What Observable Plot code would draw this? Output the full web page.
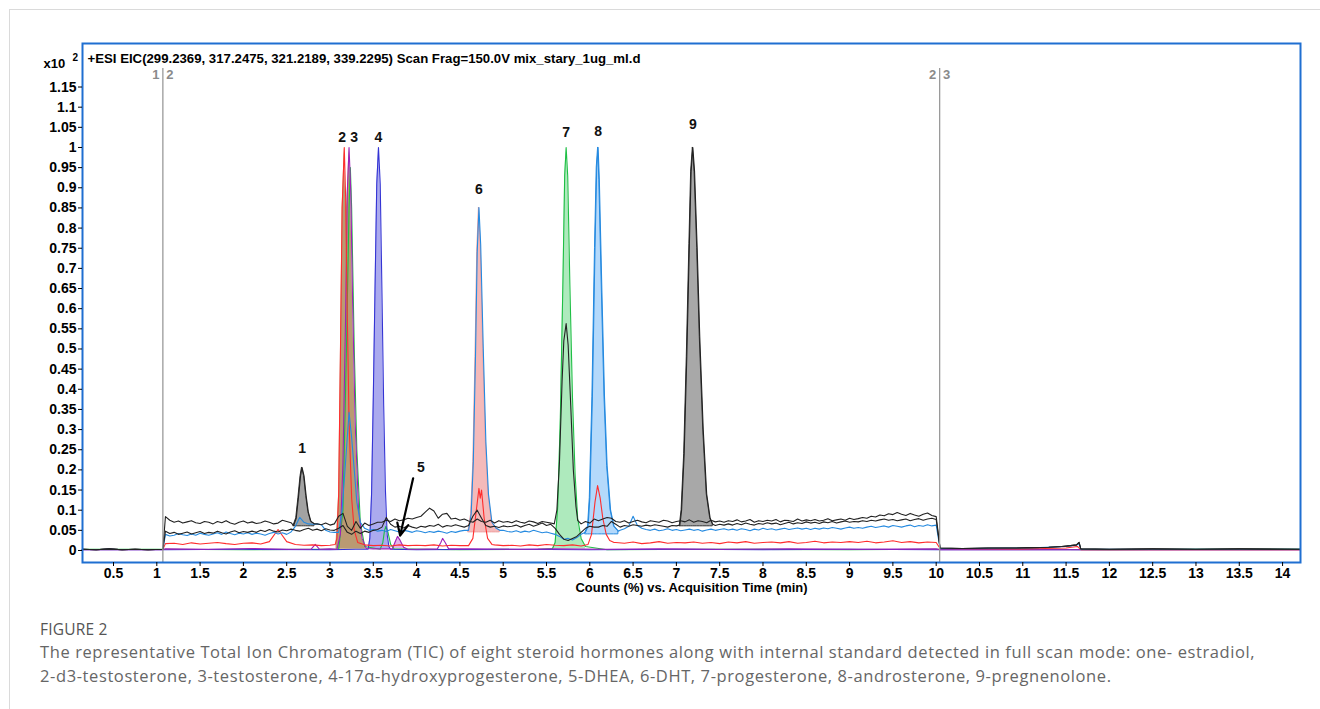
<!DOCTYPE html>
<html><head><meta charset="utf-8">
<script src="https://cdn.jsdelivr.net/npm/d3@7"></script>
<script src="https://cdn.jsdelivr.net/npm/@observablehq/plot@0.6"></script>
<style>
body{margin:0;background:#fff;width:1320px;height:709px;overflow:hidden;position:relative;font-family:"Liberation Sans",Arial,sans-serif}
#card{position:absolute;left:9px;top:9px;width:1400px;height:800px;border:1px solid #dadada;}
#chart{position:absolute;left:0;top:0}
#cap{position:absolute;left:40px;top:618px;color:#666;font-family:"Open Sans","Noto Sans",sans-serif}
#cap .fig{font-size:15.5px;letter-spacing:0.2px;margin-bottom:0px;color:#555}
#cap .txt{font-size:16.5px;letter-spacing:0.6px;line-height:24px;white-space:nowrap}
</style></head><body>
<div id="card"></div>
<div id="chart"></div>
<div id="cap"><div class="fig">FIGURE 2</div><div class="txt">The representative Total Ion Chromatogram (TIC) of eight steroid hormones along with internal standard detected in full scan mode: one- estradiol,<br>2-d3-testosterone, 3-testosterone, 4-17α-hydroxyprogesterone, 5-DHEA, 6-DHT, 7-progesterone, 8-androsterone, 9-pregnenolone.</div></div>
<script>
// ---------- data (time in min, signal in x10^2 counts %) ----------
const headerText = "+ESI EIC(299.2369, 317.2475, 321.2189, 339.2295) Scan Frag=150.0V mix_stary_1ug_ml.d";
const axisTitle = "Counts (%) vs. Acquisition Time (min)";
const xTicks = [0.5,1,1.5,2,2.5,3,3.5,4,4.5,5,5.5,6,6.5,7,7.5,8,8.5,9,9.5,10,10.5,11,11.5,12,12.5,13,13.5,14];
const yTicks = [0,0.05,0.1,0.15,0.2,0.25,0.3,0.35,0.4,0.45,0.5,0.55,0.6,0.65,0.7,0.75,0.8,0.85,0.9,0.95,1,1.05,1.1,1.15];
const segmentTimes = [1.07, 10.04];
const segmentLabels = [["1","2"],["2","3"]];

const peakNumbers = ["1","2","3","4","5","6","7","8","9"];
const peakLabelT = [2.677,3.14,3.28,3.56,4.05,4.72,5.727,6.096,7.19];
const peakLabelV = [0.253,1.025,1.025,1.025,0.206,0.896,1.037,1.040,1.057];
const arrow5 = {t1:3.96, v1:0.179, t2:3.81, v2:0.037};

// baseline sampling (scan plateau 1.10 .. 10.00 min)
const fineStart = 1.10, fineStep = 0.05;
const coarseStart = 1.1, coarseStep = 0.1;

const black1Base = [
.084,.075,.070,.073,.068,.071,.074,.069,.067,.072,
.070,.066,.072,.069,.074,.068,.065,.070,.073,.068,
.071,.067,.069,.073,.070,.066,.068,.075,.072,.069,
.070,.080,.150,.150,.090,.066,.064,.068,.063,.066,
.085,.092,.060,.050,.072,.055,.068,.062,.066,.070,
.070,.075,.072,.078,.074,.076,.080,.078,.082,.085,
.095,.105,.098,.080,.090,.092,.078,.080,.075,.078,
.073,.070,.078,.072,.070,.075,.068,.074,.070,.072,
.069,.074,.070,.068,.073,.071,.067,.072,.070,.068,
.065,.100,.450,.500,.120,.070,.066,.072,.068,.078,
.074,.078,.082,.080,.072,.070,.074,.068,.072,.075,
.071,.069,.074,.072,.070,.075,.073,.069,.072,.074,
.071,.076,.070,.074,.072,.069,.075,.071,.073,.070,
.074,.072,.076,.071,.073,.077,.070,.074,.072,.075,
.073,.077,.071,.075,.074,.072,.078,.073,.076,.074,
.077,.073,.075,.079,.074,.076,.078,.075,.080,.077,
.079,.082,.080,.085,.083,.088,.086,.091,.089,.094,
.090,.087,.092,.088,.085,.090,.093,.087,.084];
const black2Base = [
.048,.042,.045,.040,.043,.046,.041,.044,.047,.042,
.045,.043,.048,.044,.041,.046,.049,.044,.047,.045,
.048,.045,.050,.047,.052,.048,.046,.051,.049,.053,
.050,.048,.052,.055,.050,.053,.049,.054,.051,.050,
.055,.062,.045,.040,.048,.042,.048,.045,.050,.052,
.058,.082,.065,.058,.060,.056,.062,.058,.055,.060,
.058,.062,.060,.065,.058,.062,.060,.064,.061,.058,
.062,.085,.100,.080,.062,.058,.060,.057,.061,.059,
.060,.063,.058,.062,.065,.060,.064,.068,.062,.065,
.055,.040,.028,.025,.030,.035,.045,.055,.060,.058,
.058,.062,.060,.072,.065,.058,.062,.060,.064,.062,
.060,.063,.061,.064,.062,.060,.058,.062,.061,.063,
.063,.065,.062,.064,.060,.063,.066,.062,.065,.063,
.066,.063,.067,.064,.068,.065,.063,.067,.065,.069,
.066,.068,.064,.067,.070,.066,.069,.067,.071,.068,
.070,.067,.071,.069,.072,.068,.071,.073,.070,.072,
.071,.074,.072,.075,.073,.076,.078,.075,.077,.074,
.076,.078,.074,.077,.079,.075,.078,.080,.077];
const blueBase = [
.040,.036,.038,.042,.039,.037,.041,.038,.043,.040,
.038,.041,.044,.040,.046,.042,.039,.043,.041,.044,
.040,.043,.041,.038,.042,.045,.041,.044,.040,.046,
.060,.082,.070,.066,.065,.066,.064,.050,.046,.045,
.050,.100,.300,.300,.100,.060,.055,.050,.052,.048,
.050,.047,.052,.049,.046,.050,.048,.045,.049,.047,
.044,.047,.045,.048,.046,.043,.047,.045,.048,.050,
.050,.100,.800,.100,.060,.050,.055,.052,.050,.047,
.046,.049,.045,.048,.046,.050,.047,.044,.046,.043,
.040,.035,.028,.030,.026,.032,.040,.045,.100,.100,
.100,.100,.100,.100,.100,.050,.054,.060,.085,.062,
.055,.052,.050,.053,.049,.051,.054,.050,.052,.049,
.051,.053,.050,.052,.048,.051,.053,.050,.052,.054,
.051,.053,.050,.054,.052,.049,.053,.051,.055,.052,
.054,.051,.053,.055,.052,.054,.056,.053,.055,.052,
.055,.053,.056,.054,.057,.055,.053,.056,.058,.055,
.057,.055,.058,.060,.057,.059,.061,.058,.062,.060,
.058,.061,.063,.059,.062,.060,.064,.061,.063];
const redBase = [
.017,.018,.015,.019,.016,.018,.020,.017,.015,.018,
.019,.016,.022,.052,.022,.015,.013,.014,.012,.013,
.500,.500,.020,.014,.012,.013,.011,.014,.012,.013,
.012,.014,.011,.013,.012,.100,.100,.100,.014,.012,
.013,.011,.014,.012,.015,.013,.012,.014,.011,.013,
.100,.100,.020,.018,.021,.017,.019,.022,.018,.020,
.019,.021,.018,.020,.017,.021,.019,.022,.018,.020,
.021,.019,.022,.018,.020,.023,.019,.021,.020,.022,
.020,.023,.019,.021,.024,.020,.022,.019,.021,.020];
const purpleBase = [[1.1,.004],[1.6,.003],[2.1,.005],[2.5,.003],[3.0,.004],[3.5,.004],[4.0,.003],[4.6,.004],[5.2,.003],[5.6,.004],[6.2,.003],[6.8,.004],[7.5,.003],[8.3,.004],[9.1,.003],[10.0,.004]];
const navyBase = [[1.1,.002],[2.0,.003],[3.0,.002],[3.3,.003],[4.0,.002],[5.0,.003],[6.0,.002],[7.0,.003],[8.0,.002],[9.0,.003],[10.0,.002]];
const greenBase = [[0.14,.003],[1.0,.003],[2.0,.002],[3.0,.003],[4.5,.002],[5.4,.003],[6.2,.002],[7.5,.003],[9.0,.002],[10.0,.003],[11.0,.003],[12.0,.002],[13.0,.003],[14.2,.003]];

// segments before 1.07 min and after 10.04 min
const blackPre = [[0.14,.003],[0.3,.002],[0.45,.004],[0.6,.002],[0.75,.003],[0.9,.002],[1.07,.003]];
const blackPost = [[10.045,.006],[10.3,.005],[10.6,.006],[10.9,.006],[11.1,.007],[11.3,.008],[11.45,.010],[11.55,.012],[11.62,.014],[11.65,.020],[11.67,.004],[12.0,.003],[12.5,.004],[13.0,.003],[13.5,.004],[14.2,.003]];
const bluePost = [[10.045,.005],[10.4,.005],[10.8,.006],[11.2,.007],[11.5,.010],[11.62,.013],[11.65,.017],[11.67,.003],[12.5,.003],[13.5,.003],[14.2,.003]];
const redPost = [[10.045,.005],[11.0,.004],[11.5,.006],[11.63,.010],[11.67,.002],[14.2,.002]];
const lowPre = [[0.14,.002],[1.07,.002]];
const lowPost = [[10.045,.002],[14.2,.002]];

// peaks
const black1Peak1 = [[2.58,.062],[2.61,.08],[2.635,.13],[2.66,.185],[2.677,.206],[2.70,.185],[2.725,.135],[2.75,.095],[2.78,.072],[2.82,.066]];
const black1Peak7 = [[5.59,.066],[5.62,.1],[5.65,.22],[5.68,.42],[5.70,.52],[5.727,.563],[5.75,.51],[5.78,.36],[5.81,.2],[5.84,.11],[5.86,.075]];
const black2Peak9 = [[7.04,.063],[7.06,.1],[7.09,.24],[7.12,.48],[7.15,.76],[7.17,.94],[7.19,1.0],[7.21,.94],[7.24,.75],[7.27,.53],[7.31,.3],[7.35,.14],[7.39,.08],[7.42,.065]];
const bluePeak3 = [[3.1,.045],[3.14,.1],[3.18,.22],[3.22,.343],[3.25,.28],[3.28,.2],[3.31,.12],[3.35,.07],[3.4,.055]];
const bluePeak6 = [[4.6,.05],[4.63,.09],[4.655,.22],[4.68,.48],[4.70,.74],[4.72,.851],[4.74,.76],[4.77,.5],[4.80,.27],[4.83,.14],[4.87,.07],[4.92,.055],[4.96,.05]];
const bluePeak8 = [[5.95,.045],[5.98,.06],[6.0,.13],[6.03,.38],[6.06,.75],[6.08,.95],[6.096,1.0],[6.11,.92],[6.14,.64],[6.17,.38],[6.2,.21],[6.24,.1],[6.28,.06],[6.33,.048]];
const redPeak2 = [[3.06,.015],[3.08,.03],[3.10,.14],[3.12,.48],[3.14,.85],[3.165,1.0],[3.18,.88],[3.20,.58],[3.22,.32],[3.25,.13],[3.28,.05],[3.32,.02]];
const redPeak6 = [[4.6,.012],[4.65,.03],[4.69,.1],[4.72,.154],[4.735,.13],[4.75,.15],[4.78,.08],[4.82,.03],[4.87,.015]];
const redPeak8 = [[5.98,.015],[6.02,.04],[6.06,.12],[6.09,.161],[6.12,.13],[6.15,.08],[6.19,.04],[6.23,.025],[6.28,.02]];
const purplePeak3 = [[3.08,.003],[3.12,.04],[3.15,.22],[3.18,.58],[3.20,.89],[3.22,1.0],[3.24,.89],[3.26,.63],[3.29,.32],[3.33,.1],[3.37,.03],[3.42,.005]];
const purplePeak5 = [[3.72,.004],[3.75,.02],[3.78,.035],[3.81,.025],[3.85,.008],[3.9,.003]];
const purpleBumpA = [[2.78,.003],[2.83,.015],[2.88,.003]];
const purpleBumpB = [[4.24,.004],[4.28,.02],[4.30,.03],[4.33,.02],[4.37,.004]];
const navyPeak4 = [[3.44,.003],[3.46,.03],[3.48,.14],[3.50,.38],[3.52,.65],[3.54,.91],[3.56,1.0],[3.58,.91],[3.60,.64],[3.62,.36],[3.64,.15],[3.66,.04],[3.68,.01],[3.70,.003]];
const greenPeak3 = [[3.1,.003],[3.15,.1],[3.19,.5],[3.22,.85],[3.235,.95],[3.25,.85],[3.28,.5],[3.31,.25],[3.35,.07],[3.4,.01]];
const greenSmall = [[3.58,.003],[3.61,.02],[3.63,.05],[3.645,.06],[3.67,.045],[3.70,.015],[3.74,.004]];
const greenPeak7 = [[5.57,.005],[5.60,.02],[5.63,.11],[5.66,.33],[5.69,.67],[5.71,.93],[5.727,1.0],[5.745,.93],[5.77,.66],[5.80,.38],[5.83,.19],[5.86,.08],[5.90,.03],[5.95,.01]];
const fill23Top = [[3.07,.02],[3.10,.14],[3.12,.48],[3.14,.85],[3.165,1.0],[3.18,.88],[3.19,.85],[3.20,.89],[3.22,1.0],[3.24,.89],[3.26,.63],[3.29,.32],[3.33,.1],[3.37,.03],[3.42,.005]];
// integration baselines of the shaded peaks
const fillBases = {p1:.06, p23:.003, p4:.003, p5:.003, p6:.045, p7:.004, p8:.04, p9:.06};

// ---------- assembly ----------
function sampled(start, step, values){ return values.map((v,i)=>[+(start+i*step).toFixed(3), v]); }
function build(pre, base, peaks, post){
  const ranges = peaks.map(p=>[p[0][0], p[p.length-1][0]]);
  const keep = base.filter(([t])=>!ranges.some(([a,b])=>t>=a && t<=b));
  return [...pre, ...keep, ...peaks.flat(), ...post].sort((a,b)=>a[0]-b[0]);
}
const traces = [
  {name:"green", color:"#1fbf45", pts: build([], greenBase, [greenPeak3, greenSmall, greenPeak7], [])},
  {name:"navy", color:"#3434d4", pts: build(lowPre, navyBase, [navyPeak4], lowPost)},
  {name:"purple", color:"#a020b8", pts: build(lowPre, purpleBase, [purpleBumpA, purplePeak3, purplePeak5, purpleBumpB], lowPost)},
  {name:"red", color:"#ff2d2d", pts: build(blackPre, sampled(coarseStart, coarseStep, redBase), [redPeak2, redPeak6, redPeak8], redPost)},
  {name:"blue", color:"#258ae0", pts: build(blackPre, sampled(fineStart, fineStep, blueBase), [bluePeak3, bluePeak6, bluePeak8], bluePost)},
  {name:"black2", color:"#222", pts: build(blackPre, sampled(fineStart, fineStep, black2Base), [black2Peak9], blackPost)},
  {name:"black1", color:"#222", pts: build(blackPre, sampled(fineStart, fineStep, black1Base), [black1Peak1, black1Peak7], blackPost)}
];
const fills = [
  {pts: black1Peak1, base: fillBases.p1, fill:"#a2a2a2", stroke:"#333"},
  {pts: fill23Top, base: fillBases.p23, fill:"#ba9a72", stroke:"none"},
  {pts: navyPeak4, base: fillBases.p4, fill:"#abaaee", stroke:"none"},
  {pts: purplePeak5, base: fillBases.p5, fill:"#e2b4ea", stroke:"none"},
  {pts: bluePeak6, base: fillBases.p6, fill:"#f4baba", stroke:"#e99"},
  {pts: greenPeak7, base: fillBases.p7, fill:"#aeeabd", stroke:"none"},
  {pts: bluePeak8, base: fillBases.p8, fill:"#b4d9fb", stroke:"#258ae0"},
  {pts: black2Peak9, base: fillBases.p9, fill:"#a8a8a8", stroke:"#333"}
];
const segRows = segmentTimes.map((t,i)=>({t, left:segmentLabels[i][0], right:segmentLabels[i][1]}));
const peakRows = peakNumbers.map((n,i)=>({n, t:peakLabelT[i], v:peakLabelV[i]}));

const boldFont = '"Liberation Sans", Arial, sans-serif';
const chart = Plot.plot({
  width:1320, height:600,
  marginLeft:82, marginRight:20, marginTop:43, marginBottom:38,
  x:{domain:[0.142, 14.207]},
  y:{domain:[-0.0298, 1.258]},
  style:{fontFamily:boldFont, fontWeight:"bold", fontSize:"14px", color:"#000", background:"transparent", overflow:"visible"},
  marks:[
    ...fills.map(f=>Plot.areaY(f.pts, {x:d=>d[0], y1:()=>f.base, y2:d=>d[1], fill:f.fill, stroke:f.stroke, strokeWidth:1})),
    ...traces.map(tr=>Plot.line(tr.pts, {x:d=>d[0], y:d=>d[1], stroke:tr.color, strokeWidth:1.1})),
    Plot.ruleX(segRows, {x:"t", y1:1.196, y2:-0.0298, stroke:"#9a9a9a", strokeWidth:1.3}),
    Plot.text(segRows, {x:"t", y:1.181, text:"left", dx:-7, fill:"#8a8a8a", fontSize:13}),
    Plot.text(segRows, {x:"t", y:1.181, text:"right", dx:7, fill:"#8a8a8a", fontSize:13}),
    Plot.text(peakRows, {x:"t", y:"v", text:"n", fontSize:14, fill:"#111"}),
    Plot.arrow([arrow5], {x1:"t1", y1:"v1", x2:"t2", y2:"v2", stroke:"#000", strokeWidth:2.2, headLength:9, headAngle:50}),
    Plot.frame({stroke:"#1f6fd1", strokeWidth:2}),
    Plot.axisY(yTicks, {anchor:"left", tickSize:4, tickPadding:2, label:null, tickFormat:d=>String(+d.toFixed(2)), fontSize:14}),
    Plot.axisX(xTicks, {anchor:"bottom", tickSize:4, tickPadding:2, label:null, tickFormat:d=>String(d), fontSize:14}),
    Plot.text([headerText], {frameAnchor:"top-left", dx:5, dy:11, textAnchor:"start", fontSize:12.5}),
    Plot.text(["x10"], {frameAnchor:"top-left", dx:-39, dy:15, textAnchor:"start", fontSize:13}),
    Plot.text(["2"], {frameAnchor:"top-left", dx:-10, dy:10, textAnchor:"start", fontSize:10}),
    Plot.text([axisTitle], {frameAnchor:"bottom", dy:29, fontSize:12.5})
  ]
});
document.getElementById("chart").appendChild(chart);
d3.select(chart).selectAll("text").filter(function(){return this.textContent===headerText;}).attr("textLength",553).attr("lengthAdjust","spacingAndGlyphs");
d3.select(chart).selectAll("text").filter(function(){return this.textContent===axisTitle;}).attr("textLength",232).attr("lengthAdjust","spacingAndGlyphs");
</script>
</body></html>
